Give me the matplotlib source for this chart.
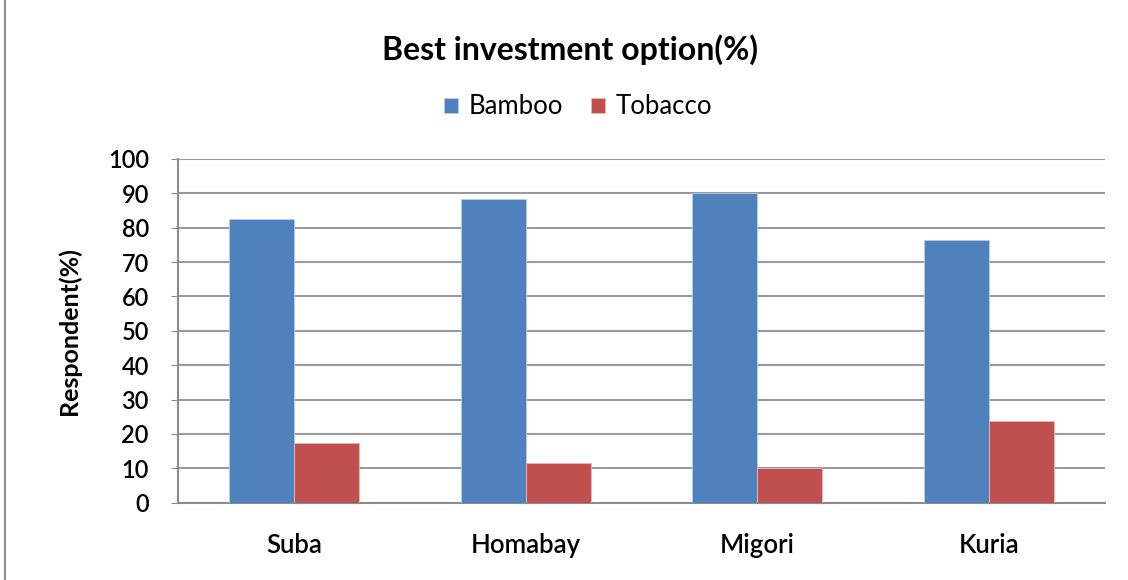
import matplotlib.pyplot as plt
import numpy as np
from matplotlib.patches import Rectangle

plt.rcParams['font.family'] = ['Lato', 'DejaVu Sans']

REGIONS = ["Suba", "Homabay", "Migori", "Kuria"]
BAMBOO = [82.6, 88.5, 90.0, 76.3]
TOBACCO = [17.4, 11.5, 10.0, 23.7]
Y_TICKS = [0, 10, 20, 30, 40, 50, 60, 70, 80, 90, 100]

fig = plt.figure(figsize=(11.28, 5.8), dpi=100)
ax = fig.add_axes([178 / 1128, 1 - 502.7 / 580, (1105 - 178) / 1128, (502.7 - 159) / 580])

# outer chart frame
fig.patches.append(Rectangle((5 / 1128, -0.01), 1.2, 1.2, transform=fig.transFigure,
                             fill=False, edgecolor='#8c8c8c', linewidth=1.5))

x = np.arange(len(REGIONS))
w = 0.28
ax.bar(x - w / 2, BAMBOO, w, color='#4f81bd', edgecolor='#b9cde5', linewidth=0.6, label="Bamboo", zorder=3)
ax.bar(x + w / 2, TOBACCO, w, color='#c0504d', edgecolor='#e6b9b8', linewidth=0.6, label="Tobacco", zorder=3)

ax.set_xlim(-0.5, len(REGIONS) - 0.5)
ax.set_ylim(0, 100)
ax.set_yticks(Y_TICKS)
ax.set_xticks(x)
ax.set_xticklabels(REGIONS, fontsize=18.5, fontweight='semibold')
ax.tick_params(axis='y', labelsize=17, length=5, color='#8c8c8c', pad=16)
ax.tick_params(axis='x', length=0, pad=22)
for lbl in ax.get_yticklabels():
    lbl.set_fontweight('semibold')

ax.yaxis.grid(True, color='#9a9a9a', linewidth=1.5, zorder=0)
ax.set_axisbelow(True)
for s in ['top', 'right']:
    ax.spines[s].set_visible(False)
ax.spines['left'].set_color('#8c8c8c')
ax.spines['bottom'].set_color('#8c8c8c')
ax.spines['left'].set_linewidth(1.5)
ax.spines['bottom'].set_linewidth(1.5)

ax.set_ylabel("Respondent(%)", fontsize=18, fontweight='bold', labelpad=19)

fig.text(570 / 1128, 1 - 50 / 580, "Best investment option(%)", fontsize=23, fontweight='bold',
         ha='center', va='center')
fig.legend(loc='center', bbox_to_anchor=(578 / 1128, 1 - 107 / 580), ncol=2, frameon=False,
           fontsize=18.5, handlelength=0.55, handleheight=0.55, columnspacing=1.1, handletextpad=0.4)

fig.savefig("out.png", dpi=100)
